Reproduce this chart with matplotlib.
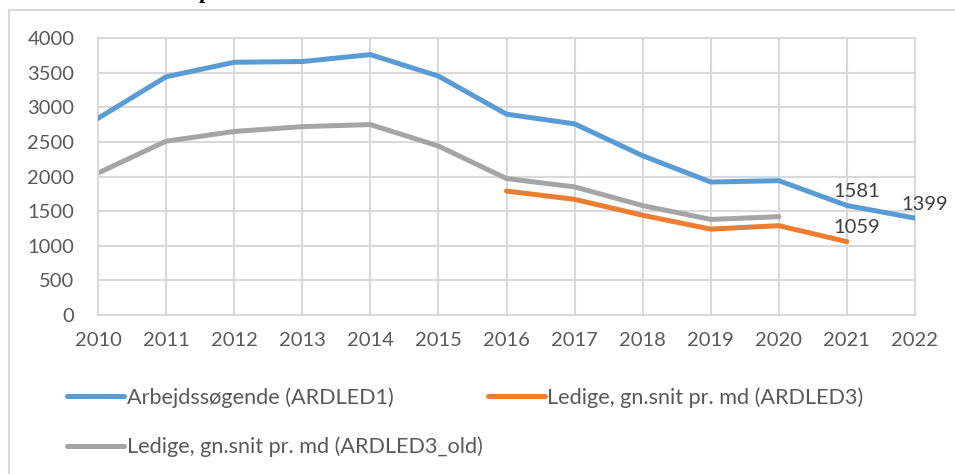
import matplotlib.pyplot as plt
from matplotlib.patches import Rectangle
import numpy as np

plt.rcParams['font.family'] = ['Lato', 'DejaVu Sans']

years = list(range(2010, 2023))
ardled1 = [2840, 3440, 3650, 3660, 3760, 3450, 2900, 2760, 2300, 1920, 1940, 1581, 1399]
ardled3_old_years = list(range(2010, 2021))
ardled3_old = [2050, 2510, 2650, 2720, 2750, 2440, 1970, 1850, 1580, 1380, 1420]
ardled3_years = list(range(2016, 2022))
ardled3 = [1790, 1670, 1440, 1240, 1290, 1059]

labels = ["Arbejdssøgende (ARDLED1)",
          "Ledige, gn.snit pr. md (ARDLED3)",
          "Ledige, gn.snit pr. md (ARDLED3_old)"]
colors = ["#5B9BD5", "#ED7D31", "#A5A5A5"]
grid_col = "#D9D9D9"
txt_col = "#595959"

fig = plt.figure(figsize=(9.55, 4.74), dpi=100)
ax = fig.add_axes([98/955, 1 - 315/474, 817/955, 277/474])

# outer chart frame (partly cut off in the original)
fig.patches.append(Rectangle((9/955, -0.1), 1.2, 1 - 10/474 + 0.1,
                             transform=fig.transFigure, fill=False,
                             edgecolor=grid_col, lw=1.5))
# title remnant, cut off at the top like in the original
fig.text(205/955, 1.0 + 2/474, "p", family="Liberation Serif", weight="bold",
         fontsize=16, ha="center", va="baseline", color="black")

lw = 3.6
l1, = ax.plot(years, ardled1, color=colors[0], lw=lw, solid_capstyle="round",
              solid_joinstyle="round", label=labels[0], zorder=3)
l2, = ax.plot(ardled3_years, ardled3, color=colors[1], lw=lw, solid_capstyle="round",
              solid_joinstyle="round", label=labels[1], zorder=3)
l3, = ax.plot(ardled3_old_years, ardled3_old, color=colors[2], lw=lw,
              solid_capstyle="round", solid_joinstyle="round", label=labels[2], zorder=2)

# data labels
for x, y in [(2021, ardled1[-2]), (2022, ardled1[-1]), (2021, ardled3[-1])]:
    ax.annotate(str(y), xy=(x, y), xytext=(7, 6), textcoords="offset points",
                ha="center", va="baseline", fontsize=14.5, color="#404040",
                annotation_clip=False)

ax.set_xlim(2010, 2022)
ax.set_ylim(0, 4000)
ax.set_xticks(years)
ax.set_yticks(np.arange(0, 4001, 500))
ax.grid(True, color=grid_col, lw=1.5)
ax.set_axisbelow(True)
for s in ax.spines.values():
    s.set_color(grid_col)
    s.set_linewidth(1.5)
ax.tick_params(axis="both", length=0, labelsize=14.5, labelcolor=txt_col)
ax.tick_params(axis="x", pad=12)
ax.tick_params(axis="y", pad=17)

fig.legend([l1, l3, l2], [labels[0], labels[2], labels[1]], ncol=2,
           loc="upper left", bbox_to_anchor=(67/955, 1 - 387/474),
           frameon=False, fontsize=15.6, labelcolor=txt_col,
           handlelength=2.65, handletextpad=0.1, columnspacing=0.25,
           labelspacing=1.35, borderpad=0, borderaxespad=0)

fig.savefig("out.png", dpi=100)
